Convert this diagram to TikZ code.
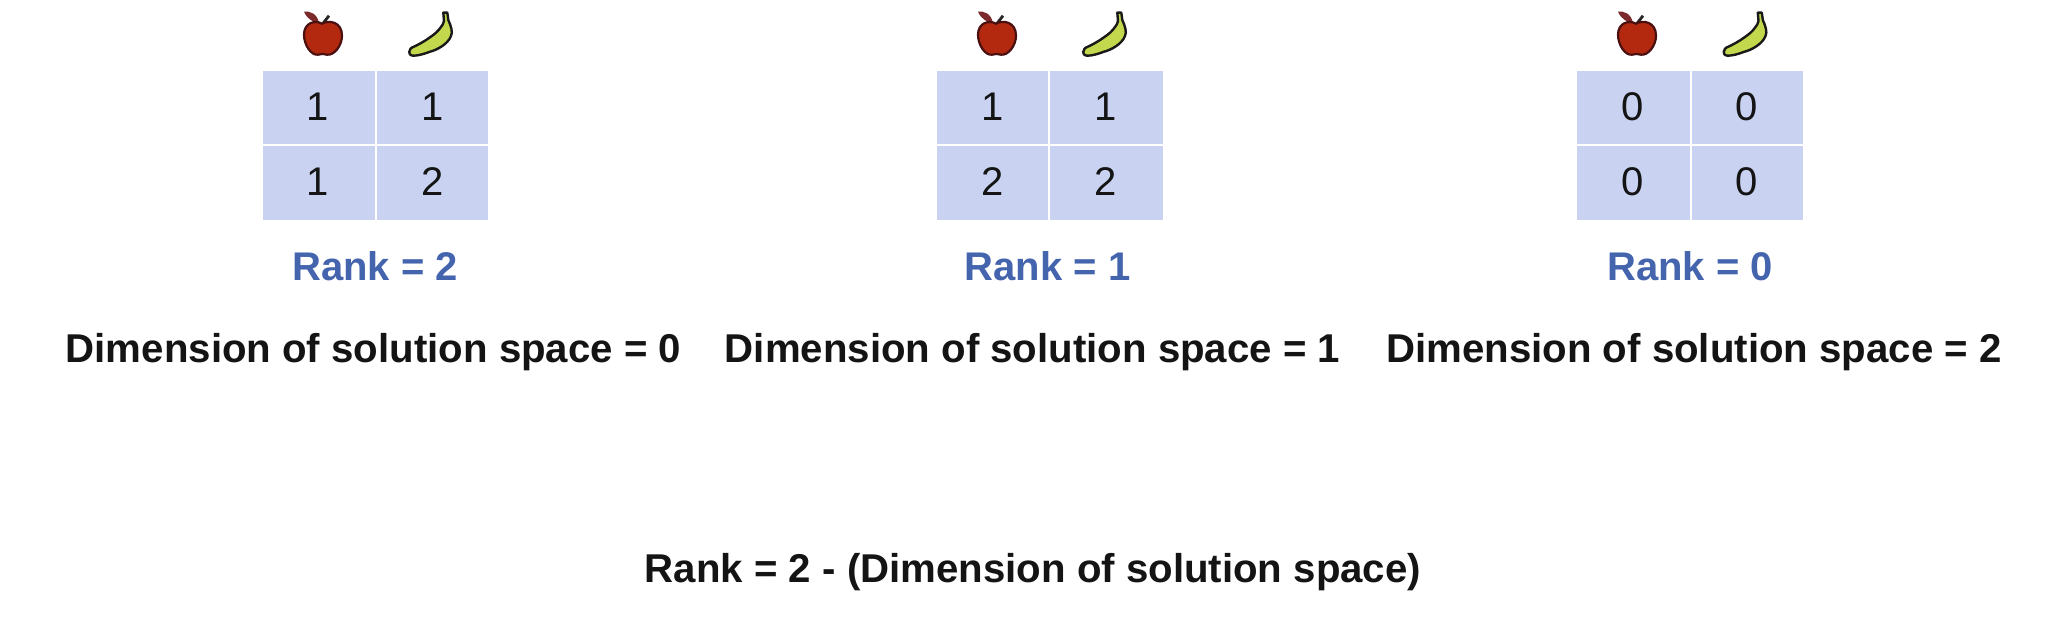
\documentclass[tikz,border=0pt]{standalone}
\usepackage{fontspec}
\setmainfont{Liberation Sans}
\definecolor{cellblue}{HTML}{C9D2F1}
\definecolor{rankblue}{HTML}{4465AE}
\definecolor{ink}{HTML}{141414}
\definecolor{appleRed}{HTML}{B3290F}
\definecolor{appleEdge}{HTML}{4A1010}
\definecolor{leafRed}{HTML}{7A2A2A}
\definecolor{bananaGreen}{HTML}{C3D84C}
\tikzset{
  cellbox/.style={fill=cellblue,draw=none,inner sep=0pt},
  digit/.style={font=\fontsize{40}{46}\selectfont,text=ink,inner sep=0pt},
  ranklabel/.style={font=\fontsize{40}{46}\selectfont\bfseries,text=rankblue,inner sep=0pt},
  dimlabel/.style={font=\fontsize{40.2}{46}\selectfont\bfseries,text=ink,inner sep=0pt},
  applebody/.style={fill=appleRed,draw=appleEdge,line width=2.2pt},
  bananabody/.style={fill=bananaGreen,draw=black!90,line width=2.4pt,line join=round},
}
\newcommand{\applepic}[2]{%
  \begin{scope}[shift={(#1,#2)}]
    \fill[leafRed] (-19,-25) .. controls (-13,-26) and (-6,-23) .. (-4,-14) .. controls (-10,-14) and (-16,-18) .. (-19,-25) -- cycle;
    \draw[black!85,line width=2.8pt] (-1,-12) -- (6,-21);
    \draw[applebody] (-1,-13) .. controls (6,-17) and (19,-15) .. (19,-1) .. controls (19,9) and (11,19) .. (4,18) .. controls (1,17) and (-2,17) .. (-5,18) .. controls (-12,19) and (-19,8) .. (-19,-2) .. controls (-19,-14) and (-8,-17) .. (-1,-13) -- cycle;
  \end{scope}}
\newcommand{\bananapic}[2]{%
  \begin{scope}[shift={(#1,#2)}]
    \draw[bananabody] (12.3,-22.3) -- (16.3,-22.3) -- (17.3,-15) .. controls (20,-9) and (22,-3) .. (20,1) .. controls (17,9) and (6,15) .. (-1,16.7) .. controls (-7,19) and (-13,20.7) .. (-17.7,20.7) .. controls (-21,20.7) and (-22.5,18) .. (-21.7,16.7) .. controls (-21,14) and (-20,13) .. (-19.3,12.7) .. controls (-13,10) and (-6,6) .. (-1,2.3) .. controls (4,-1) and (7,-4) .. (9,-6.7) .. controls (11,-9) and (13,-12) .. (13,-14) -- cycle;
  \end{scope}}
\begin{document}
\begin{tikzpicture}[x=1pt,y=-1pt]
\useasboundingbox (0,0) rectangle (2064,642);
\fill[white] (0,0) rectangle (2064,642);
% column 1
\applepic{323}{36.7}\bananapic{431}{35}
\fill[cellbox] (263,71) rectangle (375,144);
\fill[cellbox] (377,71) rectangle (488,144);
\fill[cellbox] (263,146) rectangle (375,220);
\fill[cellbox] (377,146) rectangle (488,220);
\node[digit] (a11) at (318,107) {1};
\node[digit] (a12) at (433,107) {1};
\node[digit] (a21) at (318,182) {1};
\node[digit] (a22) at (433,182) {2};
\node[ranklabel] (ra) at (375,266) {Rank = 2};
\node[dimlabel] (da) at (373.5,352) {Dimension of solution space = 0};
% column 2
\applepic{997}{36.7}\bananapic{1105}{35}
\fill[cellbox] (937,71) rectangle (1048,144);
\fill[cellbox] (1050,71) rectangle (1163,144);
\fill[cellbox] (937,146) rectangle (1048,220);
\fill[cellbox] (1050,146) rectangle (1163,220);
\node[digit] (b11) at (993,107) {1};
\node[digit] (b12) at (1106,107) {1};
\node[digit] (b21) at (993,182) {2};
\node[digit] (b22) at (1106,182) {2};
\node[ranklabel] (rb) at (1047.5,266) {Rank = 1};
\node[dimlabel] (db) at (1032.5,352) {Dimension of solution space = 1};
% column 3
\applepic{1637}{36.7}\bananapic{1745.5}{35}
\fill[cellbox] (1577,71) rectangle (1689.5,144);
\fill[cellbox] (1691.5,71) rectangle (1803,144);
\fill[cellbox] (1577,146) rectangle (1689.5,220);
\fill[cellbox] (1691.5,146) rectangle (1803,220);
\node[digit] (c11) at (1633,107) {0};
\node[digit] (c12) at (1747,107) {0};
\node[digit] (c21) at (1633,182) {0};
\node[digit] (c22) at (1747,182) {0};
\node[ranklabel] (rc) at (1690,266) {Rank = 0};
\node[dimlabel] (dc) at (1694,352) {Dimension of solution space = 2};
\node[dimlabel] (f) at (1033,572) {Rank = 2 - (Dimension of solution space)};
\end{tikzpicture}
\end{document}
